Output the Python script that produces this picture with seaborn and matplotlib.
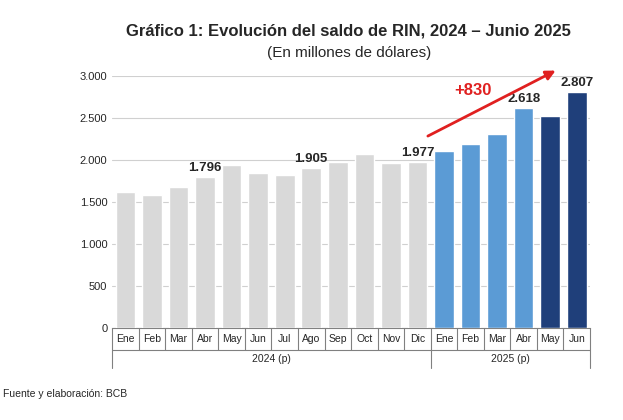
import matplotlib
matplotlib.use("Agg")
import matplotlib.pyplot as plt
import matplotlib.transforms as mtransforms
import seaborn as sns
import pandas as pd

months = ["Ene", "Feb", "Mar", "Abr", "May", "Jun", "Jul", "Ago", "Sep", "Oct", "Nov", "Dic",
          "Ene", "Feb", "Mar", "Abr", "May", "Jun"]
values = [1620, 1585, 1680, 1796, 1940, 1845, 1820, 1905, 1975, 2070, 1965, 1977,
          2105, 2190, 2305, 2618, 2522, 2807]
colors = ["#d9d9d9"] * 12 + ["#5b9bd5"] * 4 + ["#1f3f7a"] * 2
labeled = {3: "1.796", 7: "1.905", 11: "1.977", 15: "2.618", 17: "2.807"}
years = [("2024 (p)", 0, 12), ("2025 (p)", 12, 18)]

sns.set_style("white")
plt.rcParams['font.family'] = ['Liberation Sans', 'DejaVu Sans']

df = pd.DataFrame({"pos": [str(i) for i in range(len(values))], "valor": values})

fig = plt.figure(figsize=(6.23, 4.2), dpi=100)
ax = fig.add_axes([0.18, 0.219, 0.767, 0.6])
sns.barplot(data=df, x="pos", y="valor", hue="pos", palette=colors, legend=False,
            saturation=1, width=0.74, ax=ax, zorder=3)
ax.set_ylim(0, 3000)
ax.set_xlim(-0.5, len(values) - 0.5)
ax.set_yticks(range(0, 3001, 500))
ax.set_yticklabels([f"{v:,}".replace(",", ".") for v in range(0, 3001, 500)], fontsize=8)
ax.yaxis.grid(True, color="#d0d0d0", lw=0.8, zorder=0)
ax.set_xticks([])
ax.set_xlabel("")
ax.set_ylabel("")
for s in ["top", "right", "left"]:
    ax.spines[s].set_visible(False)
ax.spines["bottom"].set_color("#808080")
ax.tick_params(axis="y", length=0)

for i, txt in labeled.items():
    ax.text(i, values[i] + 40, txt, ha="center", va="bottom", fontsize=9.5, fontweight="bold")

# month / year box under the axis
tr = mtransforms.blended_transform_factory(ax.transData, ax.transAxes)
row1, row2 = -0.088, -0.16
for i, m in enumerate(months):
    ax.text(i, row1 / 2, m, transform=tr, ha="center", va="center", fontsize=7.5, clip_on=False)
for i in range(len(months) + 1):
    bottom = row2 if i in (0, 12, 18) else row1
    ax.plot([i - 0.5, i - 0.5], [0, bottom], transform=tr, color="#808080", lw=0.8, clip_on=False)
ax.plot([-0.5, 17.5], [row1, row1], transform=tr, color="#808080", lw=0.8, clip_on=False)
for name, a, b in years:
    ax.text((a + b - 1) / 2, (row1 + row2) / 2, name, transform=tr, ha="center", va="center",
            fontsize=7.5, clip_on=False)

# growth arrow
ax.annotate("", xy=(16.3, 3080), xytext=(11.3, 2270),
            arrowprops=dict(arrowstyle="-|>", color="#e02020", lw=2, mutation_scale=14),
            annotation_clip=False)
ax.text(13.1, 2830, "+830", color="#e02020", fontsize=12, fontweight="bold", ha="center", va="center")

fig.text(0.56, 0.925, "Gráfico 1: Evolución del saldo de RIN, 2024 – Junio 2025",
         ha="center", va="center", fontsize=12, fontweight="bold")
fig.text(0.56, 0.875, "(En millones de dólares)", ha="center", va="center", fontsize=11)
fig.text(0.005, 0.063, "Fuente y elaboración: BCB", ha="left", va="center", fontsize=7.5)

fig.savefig("out.png", dpi=100)
